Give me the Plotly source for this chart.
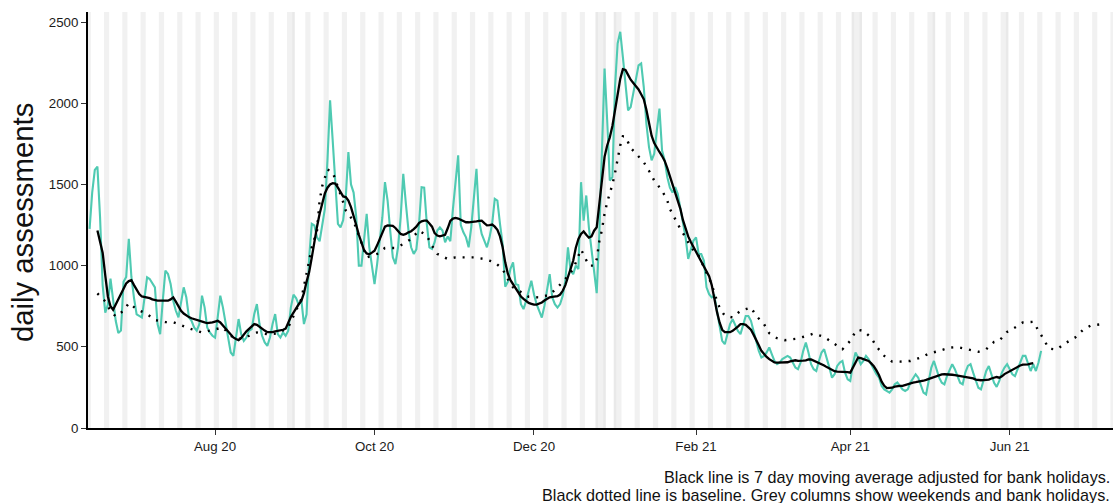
import pandas as pd
import plotly.graph_objects as go

# ---------------- data ----------------
# daily assessments, one value per day starting 2020-06-14 (Sunday)
daily_start = "2020-06-14"
daily_assessments = [
    1226,
    1450, 1590, 1610, 1300, 880, 710, 760,      # Jun 15
    920, 800, 660, 585, 600, 900, 930,          # Jun 22
    1165, 930, 800, 700, 690, 680, 800,         # Jun 29
    928, 918, 887, 866, 640, 578, 784,          # Jul 6
    969, 949, 887, 784, 722, 681, 763,          # Jul 13
    866, 805, 681, 660, 619, 599, 640,          # Jul 20
    815, 743, 619, 588, 568, 557, 681,          # Jul 27
    815, 743, 640, 557, 465, 444, 557,          # Aug 3
    671, 578, 537, 557, 599, 609, 702,          # Aug 10
    763, 640, 568, 527, 506, 557, 640,          # Aug 17
    702, 578, 557, 588, 568, 599, 743,          # Aug 24
    821, 800, 760, 790, 640, 700, 1050,         # Aug 31
    1257, 1247, 1174, 1150, 1257, 1350, 1650,   # Sep 7
    2018, 1771, 1483, 1257, 1236, 1280, 1420,   # Sep 14
    1699, 1500, 1450, 1300, 1000, 1000, 1150,   # Sep 21
    1319, 1113, 1010, 886, 1010, 1174, 1298,    # Sep 28
    1514, 1401, 1216, 1051, 1010, 1113, 1298,   # Oct 5
    1566, 1380, 1216, 1113, 1072, 1100, 1250,   # Oct 12
    1483, 1480, 1257, 1113, 1103, 1144, 1216,   # Oct 19
    1236, 1216, 1144, 1180, 1150, 1350, 1500,   # Oct 26
    1679, 1250, 1205, 1174, 1113, 1236, 1401,   # Nov 2
    1596, 1277, 1195, 1154, 1113, 1174, 1257,   # Nov 9
    1411, 1401, 1257, 1133, 870, 900, 980,      # Nov 16
    1020, 886, 880, 763, 732, 783, 845,         # Nov 23
    907, 824, 763, 722, 680, 752, 866,          # Nov 30
    948, 804, 763, 742, 763, 814, 907,          # Dec 7
    1113, 969, 948, 1000, 979, 1514, 1277,      # Dec 14
    1432, 1236, 1092, 948, 830, 1200, 1700,     # Dec 21
    2214, 1895, 1524, 1545, 2100, 2368, 2440,   # Dec 28
    2286, 2100, 1956, 1977, 2059, 2162, 2234,   # Jan 4
    2245, 2100, 1874, 1730, 1648, 1689, 1833,   # Jan 11
    1967, 1709, 1648, 1545, 1480, 1450, 1483,   # Jan 18
    1442, 1360, 1277, 1174, 1041, 1092, 1154,   # Jan 25
    1174, 1071, 1071, 1030, 866, 824, 804,      # Feb 1
    814, 722, 619, 537, 516, 578, 640,          # Feb 8
    670, 629, 598, 578, 640, 690, 690,          # Feb 15
    660, 598, 537, 475, 434, 444, 465,          # Feb 22
    496, 454, 413, 393, 403, 424, 434,          # Mar 1
    444, 434, 403, 372, 362, 403, 475,          # Mar 8
    526, 465, 393, 362, 351, 413, 465,          # Mar 15
    485, 434, 372, 310, 331, 382, 403,          # Mar 22
    413, 341, 300, 290, 393, 465, 434,          # Mar 29
    393, 413, 444, 424, 393, 362, 331,          # Apr 5
    310, 259, 238, 228, 218, 238, 269,          # Apr 12
    280, 259, 238, 228, 238, 280, 310,          # Apr 19
    331, 310, 259, 218, 207, 290, 372,          # Apr 26
    413, 362, 310, 279, 269, 320, 362,          # May 3
    393, 362, 320, 279, 269, 341, 382,          # May 10
    393, 341, 290, 248, 238, 300, 351,          # May 17
    382, 331, 279, 253, 290, 341, 372,          # May 24
    393, 362, 331, 320, 362, 403, 444,          # May 31
    444, 393, 351, 393, 351, 403, 475,          # Jun 7
]

# 7 day moving average (adjusted for bank holidays), one value per day from 2020-06-17
moving_avg_start = "2020-06-17"
moving_average = [
    1216, 1150, 1080, 940, 810, 750, 728,
    760, 795, 830, 865, 890, 905, 910,
    880, 850, 825, 810, 808, 805, 800,
    792, 786, 784, 784, 784, 784, 784,
    792, 804, 778, 748, 722, 705, 692,
    683, 676, 670, 665, 660, 655, 650,
    646, 646, 650, 655, 660, 650, 632,
    610, 590, 572, 558, 548, 541, 555,
    578, 595, 610, 625, 640, 635, 622,
    612, 600, 590, 588, 590, 595, 598,
    600, 605, 612, 650, 685, 710, 740,
    762, 783, 830, 900, 960, 1050, 1150,
    1240, 1320, 1385, 1445, 1480, 1500, 1508,
    1505, 1480, 1450, 1426, 1422, 1400, 1360,
    1310, 1250, 1190, 1140, 1095, 1075, 1070,
    1080, 1092, 1125, 1160, 1205, 1240, 1248,
    1247, 1245, 1232, 1215, 1195, 1190, 1195,
    1205, 1212, 1225, 1240, 1262, 1273, 1277,
    1277, 1260, 1240, 1200, 1185, 1180, 1183,
    1190, 1230, 1275, 1290, 1294, 1290, 1282,
    1272, 1267, 1267, 1268, 1270, 1273, 1276,
    1277, 1262, 1248, 1250, 1253, 1240, 1220,
    1180, 1115, 1020, 950, 910, 885, 860,
    835, 810, 795, 780, 770, 765, 760,
    760, 765, 773, 785, 798, 805, 808,
    808, 812, 822, 845, 880, 930, 975,
    1030, 1110, 1165, 1195, 1210, 1190, 1172,
    1180, 1215, 1236, 1380, 1540, 1670, 1740,
    1790, 1860, 1960, 2060, 2150, 2210, 2205,
    2175, 2145, 2125, 2105, 2085, 2055, 2025,
    1960, 1870, 1800, 1755, 1725, 1700, 1675,
    1645, 1600, 1550, 1500, 1460, 1410, 1350,
    1280, 1230, 1180, 1145, 1115, 1085, 1055,
    1030, 1000, 965, 935, 880, 790, 715,
    650, 605, 590, 588, 590, 598, 609,
    625, 640, 640, 635, 620, 605, 575,
    545, 510, 475, 455, 438, 424, 412,
    404, 403, 403, 403, 403, 405, 410,
    415, 417, 414, 413, 415, 417, 422,
    422, 415, 410, 402, 393, 385, 375,
    365, 356, 350, 347, 347, 347, 347,
    344, 341, 370, 400, 434, 430, 424,
    418, 413, 398, 380, 355, 325, 285,
    260, 246, 245, 248, 255, 259, 259,
    259, 265, 272, 276, 280, 282, 284,
    288, 291, 296, 302, 306, 310, 318,
    325, 330, 331, 331, 330, 328, 326,
    323, 320, 318, 315, 312, 310, 305,
    298, 294, 294, 295, 296, 298, 305,
    312, 314, 310, 318, 332, 341, 350,
    360, 368, 375, 385, 390, 390, 392,
    396, 399,
]

# baseline (black dotted line)
baseline_dates = [
    "2020-06-17", "2020-06-20", "2020-06-22", "2020-06-24", "2020-06-27", "2020-06-29",
    "2020-07-02", "2020-07-06", "2020-07-09", "2020-07-13", "2020-07-16", "2020-07-20",
    "2020-07-23", "2020-07-27", "2020-07-31", "2020-08-04", "2020-08-07", "2020-08-10",
    "2020-08-14", "2020-08-17", "2020-08-21", "2020-08-25", "2020-08-29", "2020-09-01",
    "2020-09-03", "2020-09-06", "2020-09-07", "2020-09-09", "2020-09-10", "2020-09-11",
    "2020-09-13", "2020-09-15", "2020-09-17", "2020-09-19", "2020-09-20", "2020-09-23",
    "2020-09-24", "2020-09-26", "2020-09-28", "2020-10-02", "2020-10-05", "2020-10-09",
    "2020-10-12", "2020-10-15", "2020-10-18", "2020-10-21", "2020-10-23", "2020-10-25",
    "2020-10-29", "2020-11-01", "2020-11-05", "2020-11-08", "2020-11-12", "2020-11-16",
    "2020-11-19", "2020-11-21", "2020-11-23", "2020-11-26", "2020-11-29", "2020-12-03",
    "2020-12-07", "2020-12-10", "2020-12-13", "2020-12-16", "2020-12-19", "2020-12-22",
    "2020-12-24", "2020-12-25", "2020-12-26", "2020-12-27", "2020-12-28", "2020-12-29",
    "2020-12-30", "2020-12-31", "2021-01-01", "2021-01-02", "2021-01-03", "2021-01-04",
    "2021-01-05", "2021-01-07", "2021-01-09", "2021-01-12", "2021-01-14", "2021-01-16",
    "2021-01-19", "2021-01-21", "2021-01-22", "2021-01-24", "2021-01-26", "2021-01-28",
    "2021-01-30", "2021-02-02", "2021-02-04", "2021-02-07", "2021-02-08", "2021-02-10",
    "2021-02-12", "2021-02-15", "2021-02-18", "2021-02-22", "2021-02-24", "2021-02-27",
    "2021-03-01", "2021-03-04", "2021-03-07", "2021-03-11", "2021-03-15", "2021-03-18",
    "2021-03-22", "2021-03-26", "2021-03-29", "2021-04-01", "2021-04-03", "2021-04-04",
    "2021-04-06", "2021-04-09", "2021-04-11", "2021-04-14", "2021-04-17", "2021-04-20",
    "2021-04-24", "2021-04-28", "2021-05-01", "2021-05-05", "2021-05-09", "2021-05-12",
    "2021-05-16", "2021-05-20", "2021-05-23", "2021-05-26", "2021-05-28", "2021-05-31",
    "2021-06-03", "2021-06-06", "2021-06-10", "2021-06-12", "2021-06-14", "2021-06-16",
    "2021-06-19", "2021-06-22", "2021-06-26", "2021-06-29", "2021-07-02", "2021-07-06",
]
baseline_values = [
    829, 780, 722, 687, 722, 769,
    732, 702, 665, 652, 652, 625,
    609, 588, 603, 619, 568, 547,
    568, 588, 578, 582, 620, 722,
    794, 1030, 1113, 1216, 1401, 1490,
    1592, 1576, 1490, 1391, 1340, 1273,
    1230, 1144, 1051, 1072, 1109, 1109,
    1133, 1164, 1216, 1185, 1123, 1072,
    1041, 1051, 1051, 1051, 1041, 1020,
    979, 917, 866, 835, 808, 804,
    820, 866, 917, 979, 1100, 1000,
    1000, 1040, 1150, 1220, 1320, 1390,
    1440, 1500, 1570, 1660, 1740, 1796,
    1795, 1725, 1687, 1637, 1584, 1524,
    1462, 1401, 1349, 1285, 1226, 1174,
    1113, 1061, 989, 886, 830, 740,
    691, 681, 722, 742, 691, 640,
    584, 553, 541, 549, 565, 582,
    561, 516, 485, 537, 594, 605,
    598, 557, 502, 444, 409, 409,
    413, 434, 458, 475, 495, 499,
    485, 469, 485, 530, 537, 592,
    619, 650, 654, 602, 545, 489,
    483, 520, 557, 604, 631, 639,
]

# bank holidays (grey columns together with weekends)
bank_holidays = ["2020-08-31", "2020-12-25", "2020-12-28", "2021-01-01",
                 "2021-04-02", "2021-04-05", "2021-05-03", "2021-05-31"]

x_tick_values = ["2020-08-01", "2020-10-01", "2020-12-01", "2021-02-01", "2021-04-01", "2021-06-01"]
x_tick_labels = ["Aug 20", "Oct 20", "Dec 20", "Feb 21", "Apr 21", "Jun 21"]
y_tick_values = [0, 500, 1000, 1500, 2000, 2500]

# ---------------- figure ----------------
FONT = "Liberation Sans, Arial, Helvetica, sans-serif"
TEAL = "#4FCAB2"

daily_dates = pd.date_range(daily_start, periods=len(daily_assessments), freq="D")
ma_dates = pd.date_range(moving_avg_start, periods=len(moving_average), freq="D")

# grey columns: weekends and bank holidays
calendar = pd.date_range("2020-06-13", "2021-07-11", freq="D")
bh = set(pd.to_datetime(bank_holidays))
shaded = sorted(set([d for d in calendar if d.dayofweek >= 5]) | bh)

# merge consecutive days into runs
runs = []
for d in shaded:
    if runs and (d - runs[-1][1]).days == 1:
        runs[-1][1] = d
    else:
        runs.append([d, d])

half = pd.Timedelta(hours=12)
shapes = []
for a, b in runs:
    shapes.append(dict(type="rect", xref="x", yref="paper", x0=a - half, x1=b + half,
                       y0=0, y1=1, fillcolor="rgba(0,0,0,0.056)", line=dict(width=0),
                       layer="below"))
for d in sorted(bh):
    shapes.append(dict(type="rect", xref="x", yref="paper", x0=d - half, x1=d + half,
                       y0=0, y1=1, fillcolor="rgba(0,0,0,0.03)", line=dict(width=0),
                       layer="below"))

fig = go.Figure()
fig.add_trace(go.Scatter(x=daily_dates, y=daily_assessments, mode="lines",
                         line=dict(color=TEAL, width=2.1), name="daily"))
fig.add_trace(go.Scatter(x=pd.to_datetime(baseline_dates), y=baseline_values, mode="lines",
                         line=dict(color="black", width=2.4, dash="2px,7px"), name="baseline"))
fig.add_trace(go.Scatter(x=ma_dates, y=moving_average, mode="lines",
                         line=dict(color="black", width=2.3), name="7 day average"))

axis_common = dict(showline=True, linecolor="black", linewidth=2, ticks="outside",
                   ticklen=5, tickwidth=1.4, tickcolor="#333333", showgrid=False,
                   zeroline=False, tickfont=dict(family=FONT, size=13.3, color="#1a1a1a"))

fig.update_xaxes(type="date", range=["2020-06-13 09:30", "2021-07-10 12:00"],
                 tickmode="array", tickvals=x_tick_values, ticktext=x_tick_labels,
                 **axis_common)
fig.update_yaxes(range=[0, 2562], tickmode="array", tickvals=y_tick_values,
                 **axis_common)

fig.update_layout(
    width=1117, height=503,
    margin=dict(l=88, r=4, t=12, b=75),
    paper_bgcolor="white", plot_bgcolor="white",
    showlegend=False,
    font=dict(family=FONT, color="#111111"),
    shapes=shapes,
    annotations=[
        dict(text="daily assessments", textangle=-90, xref="paper", yref="paper",
             x=-0.0644, y=0.495, xanchor="center", yanchor="middle", showarrow=False,
             font=dict(family=FONT, size=29.3, color="#111111")),
        dict(text="Black line is 7 day moving average adjusted for bank holidays.",
             xref="paper", yref="paper", x=0.999, y=-0.118, xanchor="right",
             yanchor="middle", showarrow=False,
             font=dict(family=FONT, size=16.2, color="#111111")),
        dict(text="Black dotted line is baseline. Grey columns show weekends and bank holidays.",
             xref="paper", yref="paper", x=0.999, y=-0.161, xanchor="right",
             yanchor="middle", showarrow=False,
             font=dict(family=FONT, size=16.2, color="#111111")),
    ],
)

fig.write_html("out.html", config={"displayModeBar": False},
               post_script="document.body.style.margin='0';document.body.style.padding='0';")
